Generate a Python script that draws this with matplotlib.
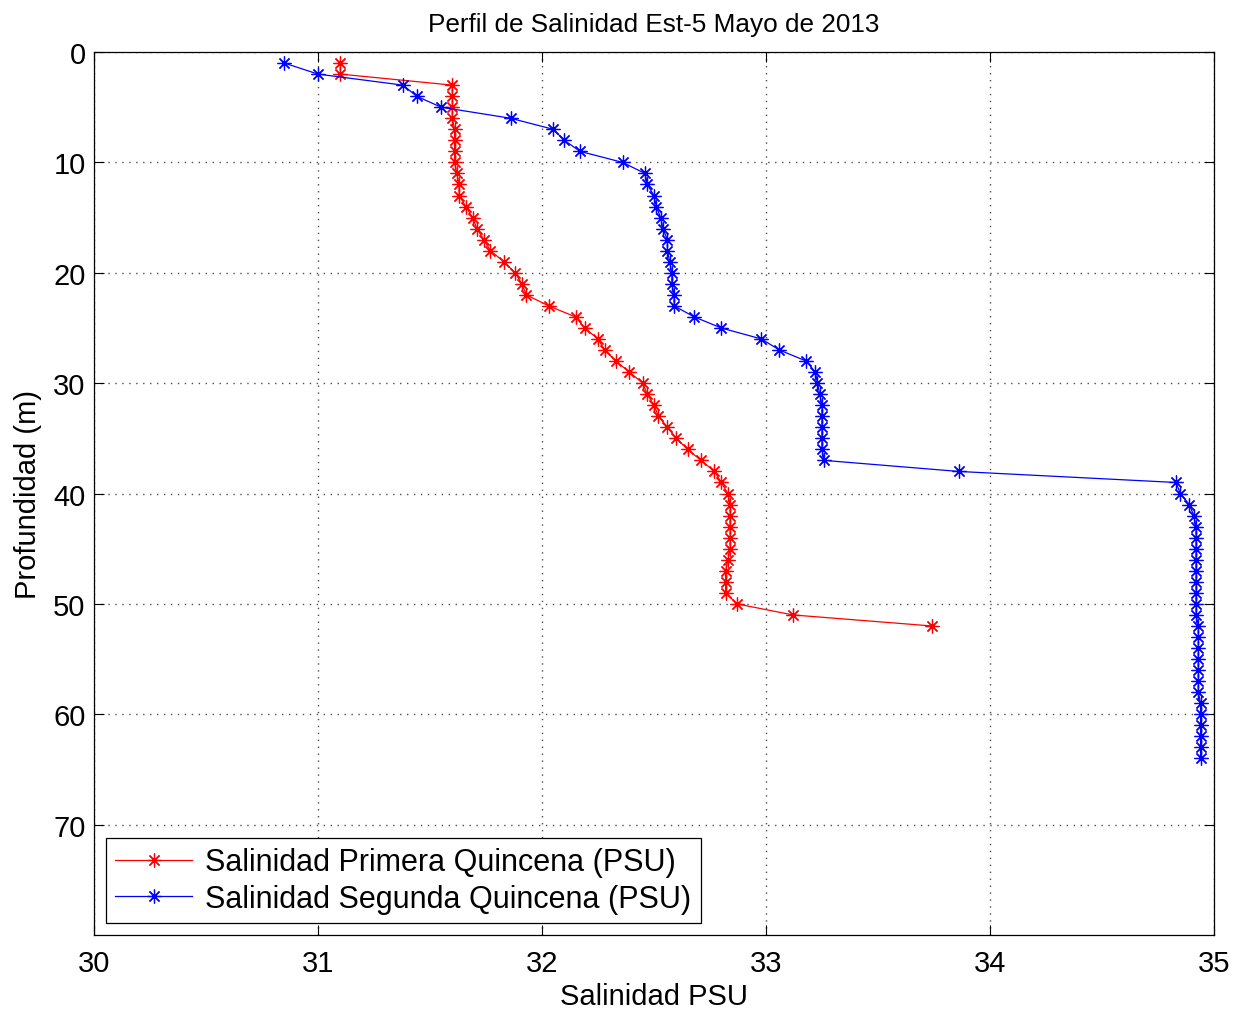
import numpy as np
import matplotlib
matplotlib.use("Agg")
import matplotlib.pyplot as plt

# ── DATA ──────────────────────────────────────────────────────────────────────
depth_primera = list(range(1, 53))   # 1 .. 52 m
sal_primera = [
    31.10, 31.10, 31.60, 31.60, 31.60, 31.60, 31.61, 31.61, 31.61, 31.61,
    31.62, 31.63, 31.63, 31.66, 31.69, 31.71, 31.74, 31.77, 31.83, 31.88,
    31.91, 31.93, 32.03, 32.15, 32.19, 32.25, 32.28, 32.33, 32.39, 32.45,
    32.47, 32.50, 32.52, 32.56, 32.60, 32.65, 32.71, 32.77, 32.80, 32.83,
    32.84, 32.84, 32.84, 32.84, 32.84, 32.83, 32.82, 32.82, 32.82, 32.87,
    33.12, 33.74,
]

depth_segunda = list(range(1, 65))   # 1 .. 64 m
sal_segunda = [
    30.85, 31.00, 31.38, 31.44, 31.55, 31.86, 32.05, 32.10, 32.17, 32.36,
    32.46, 32.47, 32.50, 32.51, 32.53, 32.54, 32.56, 32.56, 32.57, 32.58,
    32.58, 32.59, 32.59, 32.68, 32.80, 32.98, 33.06, 33.18, 33.22, 33.23,
    33.24, 33.25, 33.25, 33.25, 33.25, 33.25, 33.26, 33.86, 34.83, 34.85,
    34.89, 34.91, 34.92, 34.92, 34.92, 34.92, 34.92, 34.92, 34.92, 34.92,
    34.92, 34.93, 34.93, 34.93, 34.93, 34.93, 34.93, 34.93, 34.94, 34.94,
    34.94, 34.94, 34.94, 34.94,
]

labels = ["Salinidad Primera Quincena (PSU)", "Salinidad Segunda Quincena (PSU)"]
# ─────────────────────────────────────────────────────────────────────────────

plt.rcParams["font.family"] = ["Liberation Sans", "DejaVu Sans"]

fig = plt.figure(figsize=(12.38, 10.12), dpi=100)
ax = fig.add_axes([0.0759, 0.0751, 0.9047, 0.8725])

asterisk = (8, 2, 0)   # MATLAB-style '*' (8 spokes)
for sal, dep, col, lab in [(sal_primera, depth_primera, "red", labels[0]),
                           (sal_segunda, depth_segunda, "blue", labels[1])]:
    ax.plot(sal, dep, color=col, lw=0.9, marker=asterisk, markersize=10,
            markeredgewidth=0.9, markeredgecolor=col, label=lab)

ax.set_xlim(30, 35)
ax.set_ylim(80, 0)
ax.set_xticks(np.arange(30, 36, 1))
ax.set_yticks(np.arange(0, 80, 10))
ax.tick_params(labelsize=21, direction="in", length=7, top=True, right=True,
               width=0.8)
ax.tick_params(axis="x", pad=10)
ax.tick_params(axis="y", pad=6)
ax.grid(True, linestyle=(0, (1, 4)), color="0.3", lw=1.0)
for s in ax.spines.values():
    s.set_linewidth(0.9)

ax.set_title("Perfil de Salinidad Est-5 Mayo de 2013", fontsize=18.8, pad=15)
ax.set_xlabel("Salinidad PSU", fontsize=21, labelpad=4)
ax.set_ylabel("Profundidad (m)", fontsize=21, labelpad=8)

leg = ax.legend(loc="lower left", fontsize=22, fancybox=False, framealpha=1,
                edgecolor="black", handlelength=2.5, handletextpad=0.45,
                borderaxespad=0.4, labelspacing=0.2, borderpad=0.3)
leg.get_frame().set_linewidth(0.9)

fig.savefig("out.png", dpi=100)
